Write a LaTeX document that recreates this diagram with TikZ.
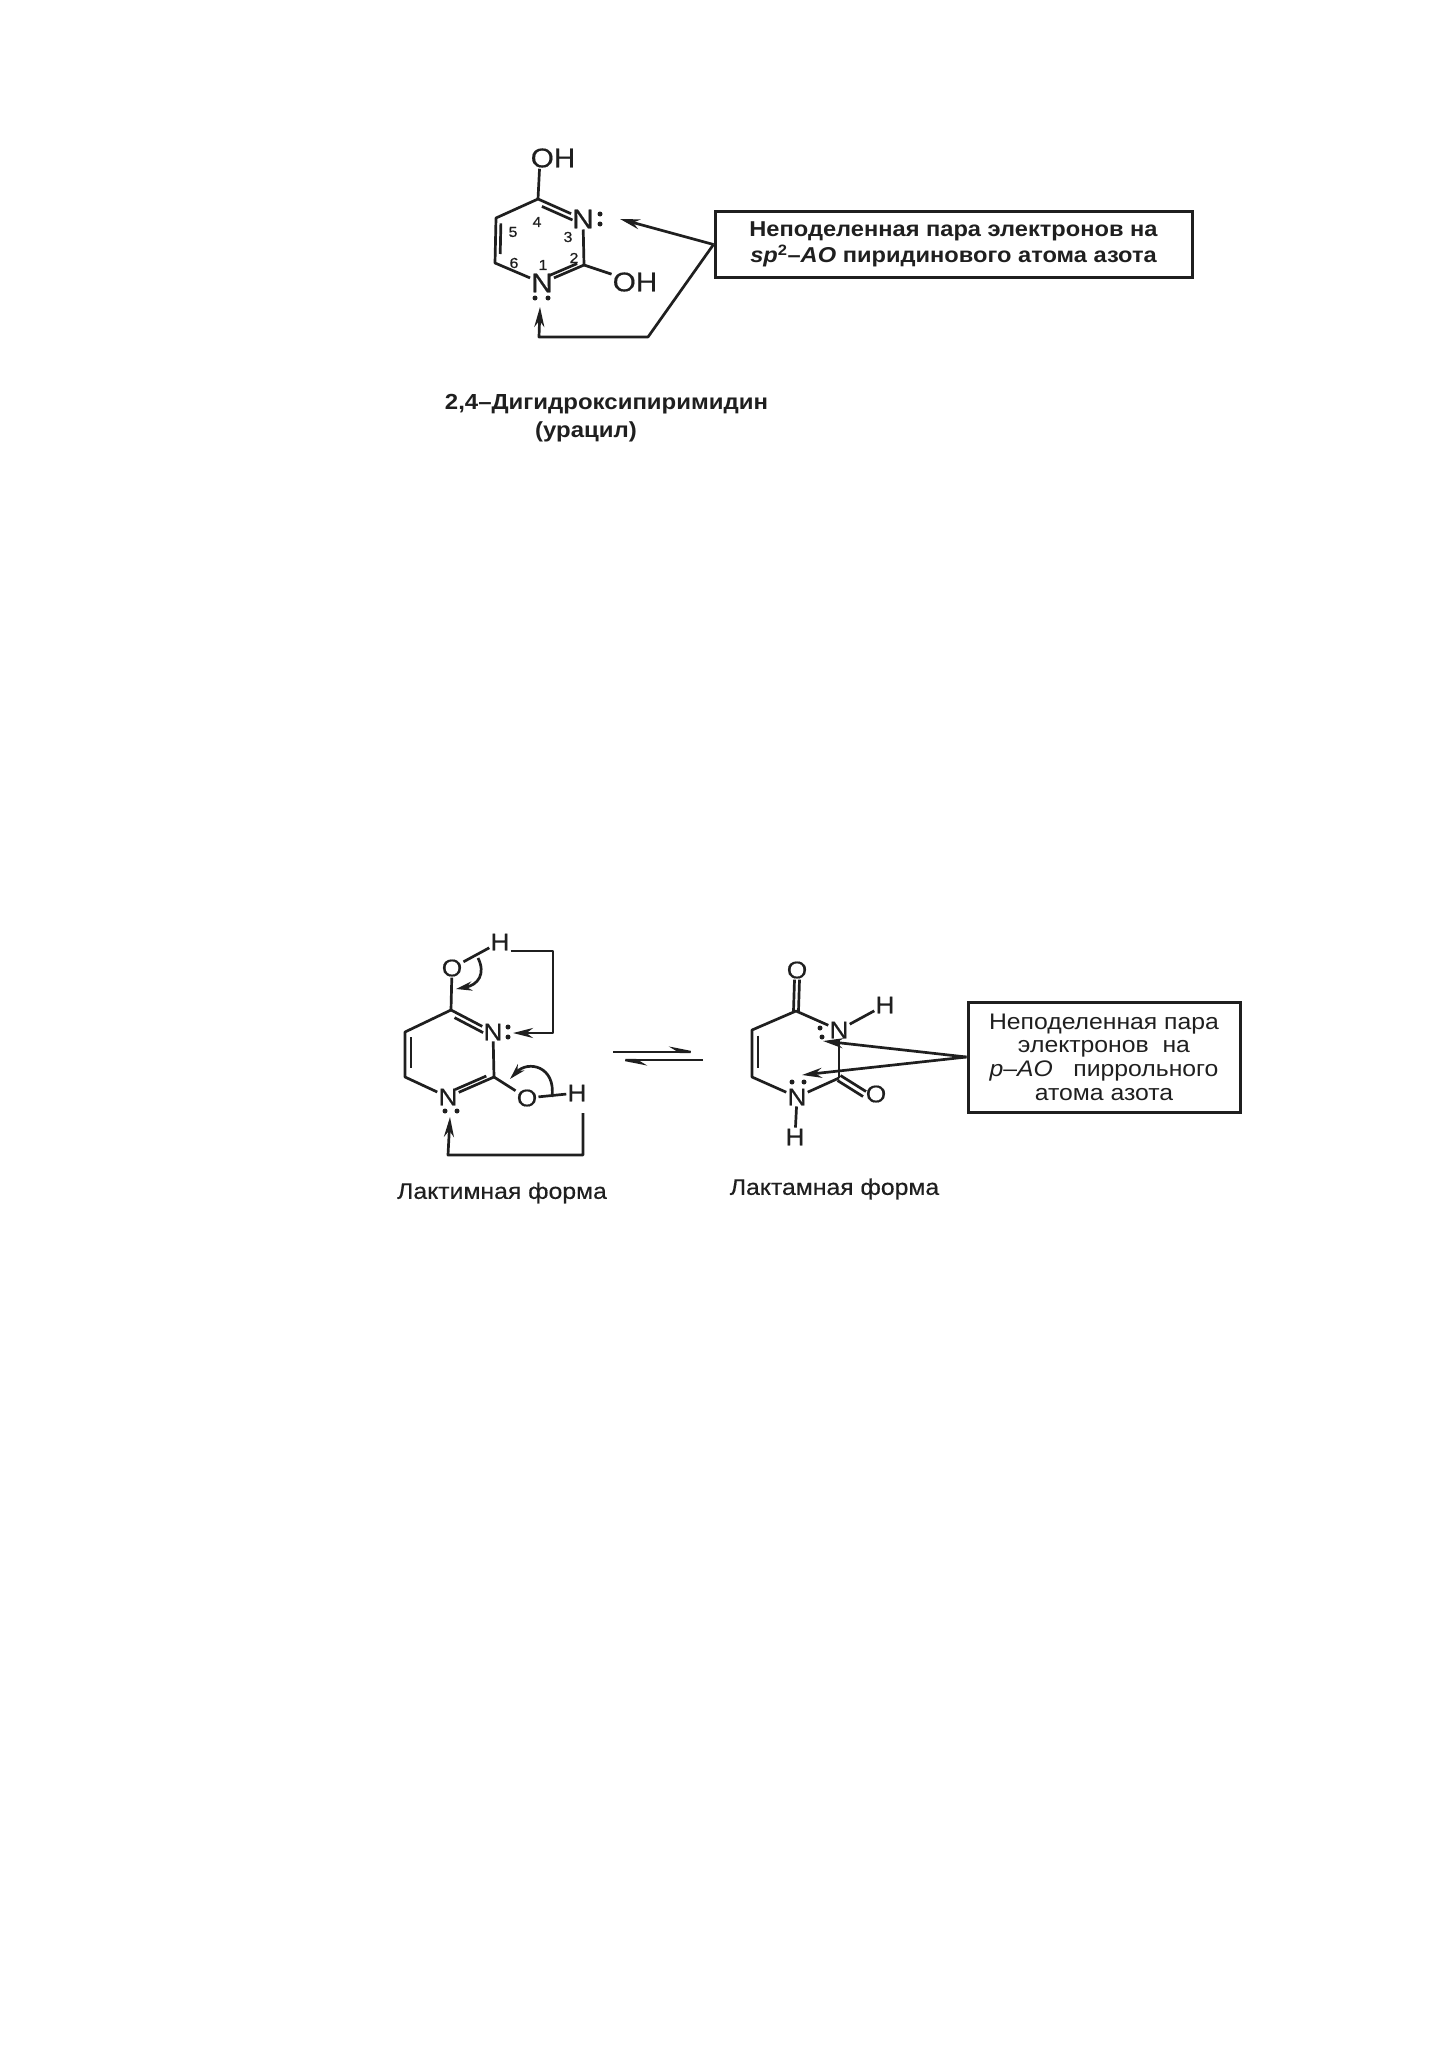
\documentclass[tikz,border=0pt]{standalone}
\usepackage{fontspec}
\setmainfont{Liberation Sans}[FakeStretch=1.1]
\newfontfamily\medf{Liberation Sans}[FakeStretch=1.1,FakeBold=0.5]
\usetikzlibrary{arrows.meta,calc}
\definecolor{ink}{gray}{0.12}
\tikzset{
  bond/.style={draw=ink,line width=2.7pt},
  conn/.style={draw=ink,line width=2.7pt},
  tip/.style={conn,-{Stealth[length=20pt,width=10pt]}},
  harp/.style={conn,line width=2.4pt,-{Stealth[length=28pt,width=11pt,harpoon]}},
  atom/.style={text=ink,inner sep=1pt,font=\fontsize{27}{27}\selectfont\medf},
  atomb/.style={atom,font=\fontsize{24}{24}\selectfont\medf},
  num/.style={text=ink,inner sep=0pt,font=\fontsize{14.5}{14.5}\selectfont\medf},
  dotp/.style={circle,fill=ink,inner sep=0pt,minimum size=5pt},
  cap1/.style={text=ink,inner sep=0pt,font=\fontsize{21.8}{24}\selectfont\bfseries},
  cap2/.style={text=ink,inner sep=0pt,font=\fontsize{22.5}{24}\selectfont\medf},
  box1/.style={draw=ink,line width=3pt,rectangle,minimum width=477pt,minimum height=66pt,inner sep=0pt,align=center,text=ink,font=\fontsize{21.5}{26}\selectfont\bfseries},
  box2/.style={draw=ink,line width=3pt,rectangle,minimum width=272pt,minimum height=110pt,inner sep=0pt,align=center,text=ink,font=\fontsize{22.5}{23.7}\selectfont},
}
\newcommand{\dblbond}[4]{\draw[bond] ($(#1)!.12!(#2)+(#3,#4)$) -- ($(#1)!.8!(#2)+(#3,#4)$);}
\begin{document}
\begin{tikzpicture}[x=1pt,y=-1pt]
\useasboundingbox (0,0) rectangle (1449,2050);
% ---- top molecule
\coordinate (tC4) at (538,199);
\coordinate (tC5) at (496,218);
\coordinate (tC6) at (495,263);
\coordinate (tC2) at (584,265);
\node[atom] (tN3) at (583,219) {N};
\node[atom] (tN1) at (542,283) {N};
\node[atom] (tOH4) at (553,158) {OH};
\node[atom] (tOH2) at (635,282) {OH};
\draw[bond] (tC4) -- ($(tOH4.south west)+(10,0)$);
\draw[bond,line join=round] (tN3) -- (tC4) -- (tC5) -- (tC6) -- (tN1);
\draw[bond] (tN1) -- (tC2);
\draw[bond] (tN3) -- (tC2);
\draw[bond] (tC2) -- (tOH2);
\dblbond{tC4}{tN3}{-1.5}{5}
\dblbond{tC5}{tC6}{5}{0}
\dblbond{tN1}{tC2}{1.5}{-5}
\node[num] (n5) at (513,232) {5};
\node[num] (n4) at (537,222) {4};
\node[num] (n3) at (568,237) {3};
\node[num] (n2) at (574,258) {2};
\node[num] (n1) at (543,265) {1};
\node[num] (n6) at (514,263) {6};
\node[dotp] (d1) at (600,214) {};
\node[dotp] (d2) at (600,224) {};
\node[dotp] (d3) at (535,298) {};
\node[dotp] (d4) at (548,298) {};
\node[box1] (box1) at (953.5,244.5) {Неподеленная пара электронов на\\{\itshape sp}\textsuperscript{2}–{\itshape AO} пиридинового атома азота};
\coordinate (ta) at (620,219);
\coordinate (tb) at (648,337);
\coordinate (tc) at (539,337);
\coordinate (td) at (540,307);
\draw[tip] (box1.west) -- (ta);
\draw[tip,line join=round] (box1.west) -- (tb) -- (tc) -- (td);
\node[cap1] (cap1) at (606.5,404) {2,4–Дигидроксипиримидин};
\node[cap1] (cap1b) at (586,432) {(урацил)};
% ---- lactim form
\coordinate (aC4) at (451,1010);
\coordinate (aC5) at (405,1032);
\coordinate (aC6) at (405,1077);
\coordinate (aC2) at (494,1077);
\node[atomb] (aN3) at (493,1032) {N};
\node[atomb] (aN1) at (448,1097) {N};
\node[atomb] (aO4) at (452,968) {O};
\node[atomb] (aO2) at (527,1098) {O};
\node[atomb] (aH4) at (500,942) {H};
\node[atomb] (aH2) at (577,1093) {H};
\draw[bond] (aC4) -- (aO4);
\draw[bond] (aO4) -- (aH4);
\draw[bond,line join=round] (aN3) -- (aC4) -- (aC5) -- (aC6) -- (aN1);
\draw[bond] (aN1) -- (aC2);
\draw[bond] (aN3) -- (aC2);
\draw[bond] (aC2) -- (aO2);
\draw[bond] (aO2) -- (aH2);
\dblbond{aC4}{aN3}{-1.5}{5}
\dblbond{aC5}{aC6}{6}{0}
\dblbond{aN1}{aC2}{1.5}{-5}
\node[dotp] (d5) at (508,1027) {};
\node[dotp] (d6) at (508,1037) {};
\node[dotp] (d7) at (445,1111) {};
\node[dotp] (d8) at (457,1111) {};
\coordinate (aa) at (553,951);
\coordinate (ab) at (553,1033);
\coordinate (ac) at (513,1033);
\draw[tip,line join=round] (aH4.east |- aa) -- (aa) -- (ab) -- (ac);
\coordinate (ad) at (583,1113);
\coordinate (ae) at (583,1155);
\coordinate (af) at (448,1155);
\coordinate (ag) at (450,1117);
\draw[tip,line join=round] (ad) -- (ae) -- (af) -- (ag);
\coordinate (ah) at (478,958);
\coordinate (ai) at (456,989);
\draw[conn,-{Stealth[length=16pt,width=9pt]}] (ah) .. controls (486,974) and (478,985) .. (ai);
\coordinate (aj) at (552,1097);
\coordinate (ak) at (510,1079);
\draw[conn,-{Stealth[length=16pt,width=9pt]}] (aj) .. controls (556,1066) and (528,1060) .. (ak);
\node[cap2] (cap2) at (502,1193) {Лактимная форма};
% ---- equilibrium
\coordinate (e1) at (613,1052);
\coordinate (e2) at (703,1052);
\coordinate (e3) at (703,1060);
\coordinate (e4) at (613,1060);
\draw[harp] (e1) -- (e2);
\draw[harp] (e3) -- (e4);
% ---- lactam form
\coordinate (bC4) at (796,1011);
\coordinate (bC5) at (752,1030);
\coordinate (bC6) at (752,1077);
\coordinate (bC2) at (839,1078);
\node[atomb] (bN3) at (839,1030) {N};
\node[atomb] (bN1) at (797,1097) {N};
\node[atomb] (bO4) at (797,970) {O};
\node[atomb] (bO2) at (876,1094) {O};
\node[atomb] (bH3) at (885,1005) {H};
\node[atomb] (bH1) at (795,1137) {H};
\draw[bond] ([xshift=-2.5pt]bC4) -- ([xshift=-2.5pt]bO4.south);
\draw[bond] ([xshift=2.5pt]bC4) -- ([xshift=2.5pt]bO4.south);
\draw[bond,line join=round] (bN3) -- (bC4) -- (bC5) -- (bC6) -- (bN1);
\draw[bond] (bN1) -- (bC2);
\draw[bond] (bN3) -- (bC2);
\draw[bond] (bN3) -- (bH3);
\draw[bond] (bN1) -- (bH1);
\draw[bond] ([shift={(1.5,-2.5)}]bC2) -- ([shift={(1.5,-2.5)}]bO2.west);
\draw[bond] ([shift={(-1.5,2.5)}]bC2) -- ([shift={(-1.5,2.5)}]bO2.west);
\dblbond{bC5}{bC6}{6}{0}
\node[dotp] (d9) at (820,1028) {};
\node[dotp] (d10) at (822,1037) {};
\node[dotp] (d11) at (792,1082) {};
\node[dotp] (d12) at (804,1082) {};
\node[box2] (box2) at (1104,1057) {Неподеленная пара\\электронов\ \ на\\{\itshape p}–{\itshape AO}\ \ \ пиррольного\\атома азота};
\coordinate (ba) at (823,1041);
\coordinate (bb) at (802,1075);
\draw[tip] (box2.west) -- (ba);
\draw[tip] (box2.west) -- (bb);
\node[cap2] (cap3) at (834.5,1189) {Лактамная форма};
\end{tikzpicture}
\end{document}
